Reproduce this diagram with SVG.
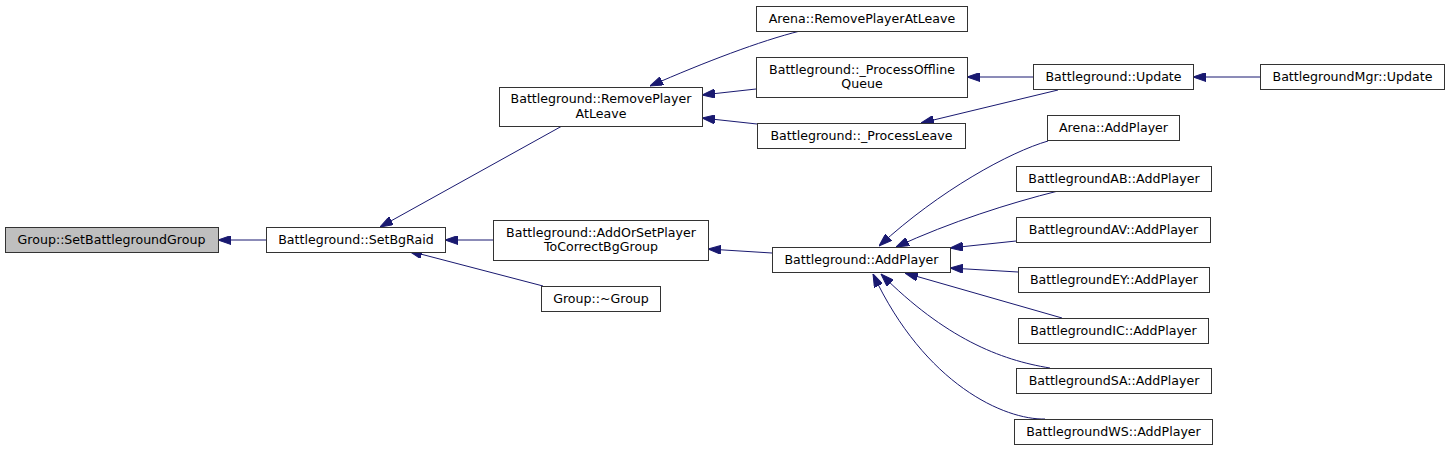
<svg xmlns="http://www.w3.org/2000/svg" width="1449" height="451" viewBox="0 0 1449 451">
<style>
.n rect{fill:#ffffff;stroke:#333333;stroke-width:1}
.n.root rect{fill:#bfbfbf}
.n text{font-family:"DejaVu Sans",sans-serif;font-size:12.6px;fill:#000000;text-anchor:middle}
.e path{fill:none;stroke:#191970;stroke-width:1;marker-end:url(#arr)}
</style>
<defs>
<marker id="arr" viewBox="0 0 13 9" refX="13" refY="4.5" markerWidth="13" markerHeight="9" markerUnits="userSpaceOnUse" orient="auto">
<path d="M0,0 L13,4.5 L0,9 z" fill="#191970" stroke="#191970" stroke-width="1"/>
</marker>
</defs>
<rect width="1449" height="451" fill="#ffffff"/>
<g id="edges" class="e">
<path d="M266,240 L218,240"/>
<path d="M493,240 L445,240"/>
<path d="M562,126 L380,227"/>
<path d="M543,286 L409,251"/>
<path d="M800,31 C760,41 705,62 650,86"/>
<path d="M756,89 L702,95"/>
<path d="M757,124 L702,118"/>
<path d="M1033,77 L967,77"/>
<path d="M1058,90 L921,123"/>
<path d="M1260,77 L1193,77"/>
<path d="M772,253 L708,249"/>
<path d="M1048,141 C1010,152 940,190 879,246"/>
<path d="M1058,191 C1010,203 950,222 896,247"/>
<path d="M1016,241 L950,248"/>
<path d="M1018,272 L950,268"/>
<path d="M1062,318 L905,273"/>
<path d="M1050,368 C1000,360 945,338 881,274"/>
<path d="M1045,419 C1005,420 925,385 873,274"/>
</g>
<g id="node_SetBattlegroundGroup" class="n root">
<rect x="5.5" y="227.5" width="213" height="25"/>
<text x="111.5" y="244">Group::SetBattlegroundGroup</text>
</g>
<g id="node_SetBgRaid" class="n">
<rect x="266.5" y="227.5" width="179" height="25"/>
<text x="356" y="244">Battleground::SetBgRaid</text>
</g>
<g id="node_RemovePlayerAtLeave" class="n">
<rect x="499.5" y="87.5" width="203" height="39"/>
<text x="601" y="103">Battleground::RemovePlayer</text>
<text x="601" y="117.5">AtLeave</text>
</g>
<g id="node_ArenaRemovePlayerAtLeave" class="n">
<rect x="756.5" y="6.5" width="211" height="25"/>
<text x="862" y="23">Arena::RemovePlayerAtLeave</text>
</g>
<g id="node_ProcessOfflineQueue" class="n">
<rect x="756.5" y="57.5" width="211" height="40"/>
<text x="862" y="73.5">Battleground::_ProcessOffline</text>
<text x="862" y="88">Queue</text>
</g>
<g id="node_ProcessLeave" class="n">
<rect x="757.5" y="123.5" width="208" height="25"/>
<text x="861.5" y="140">Battleground::_ProcessLeave</text>
</g>
<g id="node_AddOrSetPlayer" class="n">
<rect x="493.5" y="220.5" width="215" height="40"/>
<text x="601" y="236.5">Battleground::AddOrSetPlayer</text>
<text x="601" y="251">ToCorrectBgGroup</text>
</g>
<g id="node_GroupDtor" class="n">
<rect x="541.5" y="286.5" width="119" height="25"/>
<text x="601" y="303">Group::~Group</text>
</g>
<g id="node_AddPlayer" class="n">
<rect x="772.5" y="247.5" width="178" height="25"/>
<text x="861.5" y="264">Battleground::AddPlayer</text>
</g>
<g id="node_Update" class="n">
<rect x="1033.5" y="64.5" width="160" height="25"/>
<text x="1113.5" y="81">Battleground::Update</text>
</g>
<g id="node_MgrUpdate" class="n">
<rect x="1260.5" y="64.5" width="184" height="25"/>
<text x="1352.5" y="81">BattlegroundMgr::Update</text>
</g>
<g id="node_ArenaAddPlayer" class="n">
<rect x="1047.5" y="115.5" width="132" height="25"/>
<text x="1113.5" y="132">Arena::AddPlayer</text>
</g>
<g id="node_ABAddPlayer" class="n">
<rect x="1016.5" y="166.5" width="195" height="25"/>
<text x="1114" y="183">BattlegroundAB::AddPlayer</text>
</g>
<g id="node_AVAddPlayer" class="n">
<rect x="1016.5" y="217.5" width="194" height="25"/>
<text x="1113.5" y="234">BattlegroundAV::AddPlayer</text>
</g>
<g id="node_EYAddPlayer" class="n">
<rect x="1018.5" y="267.5" width="191" height="25"/>
<text x="1114" y="284">BattlegroundEY::AddPlayer</text>
</g>
<g id="node_ICAddPlayer" class="n">
<rect x="1018.5" y="318.5" width="190" height="25"/>
<text x="1113.5" y="335">BattlegroundIC::AddPlayer</text>
</g>
<g id="node_SAAddPlayer" class="n">
<rect x="1016.5" y="368.5" width="195" height="25"/>
<text x="1114" y="385">BattlegroundSA::AddPlayer</text>
</g>
<g id="node_WSAddPlayer" class="n">
<rect x="1014.5" y="419.5" width="198" height="25"/>
<text x="1113.5" y="436">BattlegroundWS::AddPlayer</text>
</g>
</svg>
